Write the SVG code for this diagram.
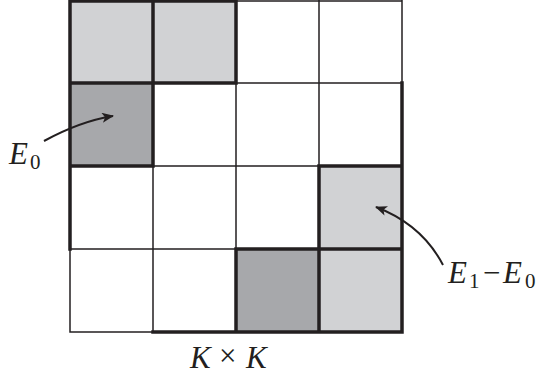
<svg xmlns="http://www.w3.org/2000/svg" width="538" height="380" viewBox="0 0 538 380">
<style>
.thin{stroke:#231f20;stroke-width:1.5;fill:none;stroke-linecap:square}
.thick{stroke:#231f20;stroke-width:3.5;fill:none;stroke-linecap:square}
.light{fill:#d1d2d4}
.dark{fill:#a7a8ab}
.lbl{font-family:"Liberation Serif",serif;font-style:italic;fill:#231f20;font-size:31px}
.sub{font-family:"Liberation Serif",serif;fill:#231f20;font-size:21px}
.op{font-family:"Liberation Serif",serif;fill:#231f20;font-size:31px}
.arr{stroke:#231f20;stroke-width:2;fill:none}
</style>
<defs>
<marker id="ah" markerWidth="12" markerHeight="10" refX="11" refY="5" orient="auto" markerUnits="userSpaceOnUse">
<path d="M0,0 L12,5 L0,10 L3,5 Z" fill="#231f20"/>
</marker>
</defs>
<rect width="538" height="380" fill="#ffffff"/>
<g id="grid">
<rect id="c00" class="light" x="70" y="0" width="83" height="83"/>
<rect id="c01" class="light" x="153" y="0" width="83" height="83"/>
<rect id="c10" class="dark" x="70" y="83" width="83" height="83"/>
<rect id="c23" class="light" x="319" y="166" width="83" height="83"/>
<rect id="c32" class="dark" x="236" y="249" width="83" height="83"/>
<rect id="c33" class="light" x="319" y="249" width="83" height="83"/>
<path class="thin" d="M70,249V332 M153,166V332 M236,83V249 M319,0V166 M402,0V83 M236,1H402 M236,83H402 M153,166H319 M70,249H236 M70,332H153"/>
<path class="thick" d="M70,1V249 M153,1V166 M236,1V83 M236,249V332 M319,166V332 M402,83V332 M70,1H236 M70,83H236 M70,166H153 M319,166H402 M236,249H402 M153,332H402"/>
</g>
<g id="connectors">
<path class="arr" d="M44,141 C66,129 88,120 113,116" marker-end="url(#ah)"/>
<path class="arr" d="M443,265 C430,240 410,220 376,207" marker-end="url(#ah)"/>
</g>
<g id="label-E0">
<text x="9" y="164" class="lbl">E</text><text x="30" y="169" class="sub">0</text>
</g>
<g id="label-E1E0">
<text x="448" y="283" class="lbl">E</text><text x="469" y="288" class="sub">1</text><text x="483" y="283" class="op">−</text><text x="503" y="283" class="lbl">E</text><text x="525" y="288" class="sub">0</text>
</g>
<g id="label-KK">
<text x="190" y="368" class="lbl">K</text><text x="219" y="366" class="op" font-size="26">×</text><text x="246" y="368" class="lbl">K</text>
</g>
</svg>
